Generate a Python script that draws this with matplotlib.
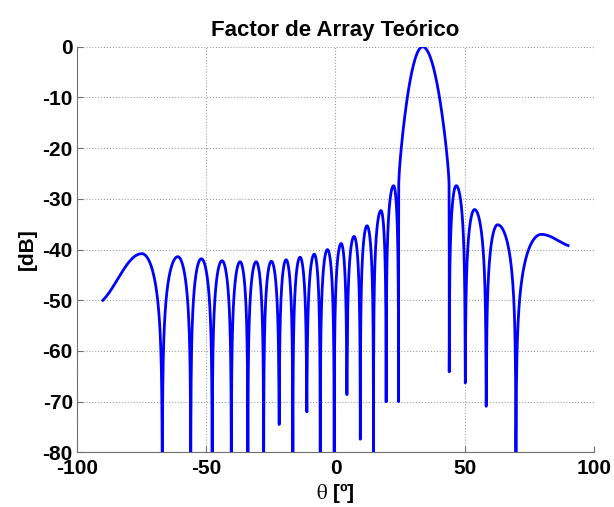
import numpy as np
import matplotlib.pyplot as plt

plt.rcParams['font.family'] = ['Liberation Sans', 'DejaVu Sans']
plt.rcParams['mathtext.fontset'] = 'stix'
plt.rcParams['axes.unicode_minus'] = False

# values
theta_start, db_start = -90.0, -50.0
theta_end, db_end = 90.0, -39.2

null_deg = [-67.0, -56.0, -47.7, -40.3, -33.9, -27.8, -21.8, -16.5, -11.1, -5.9,
            -0.5, 4.4, 9.6, 14.7, 19.6, 24.4, 44.0, 50.2, 58.3, 69.8]
null_db = [-120, -120, -120, -120, -120, -120, -74.5, -120, -72.0, -120,
           -120, -68.6, -77.4, -120, -70.0, -70.0, -64.1, -66.3, -70.9, -120]

peak_deg = [-74.9, -61.0, -51.9, -43.9, -36.9, -30.7, -24.8, -19.1, -13.7, -8.2,
            -3.1, 2.2, 7.2, 12.2, 17.6, 22.5, 33.7, 46.7, 53.8, 62.7, 79.6]
peak_db = [-40.8, -41.4, -41.8, -42.2, -42.4, -42.4, -42.3, -42.0, -41.5, -40.9,
           -40.0, -38.8, -37.4, -35.3, -32.3, -27.4, 0.0, -27.4, -32.1, -35.1, -37.0]


def half_lobe(pk, lv, edge, edge_db, is_null, main, n=150):
    x = np.linspace(pk, edge, n)
    s = (x - pk) / (edge - pk)
    if is_null:
        if main:
            f = np.exp(-2.7 * s ** 2) * np.clip(np.cos(np.pi * s / 2), 1e-9, None) ** 0.1
        else:
            f = np.cos(np.pi * s / 2)
        y = lv + 20 * np.log10(np.clip(f, 1e-9, None))
        y = np.maximum(y, edge_db)
    else:
        k = 0.8 * np.pi
        y = lv + (edge_db - lv) * (1 - np.cos(k * s)) / (1 - np.cos(k))
    return x, y


xs, ys = [], []
edges = [theta_start] + null_deg + [theta_end]
edge_db = [db_start] + null_db + [db_end]
for i, (pk, lv) in enumerate(zip(peak_deg, peak_db)):
    main = lv == max(peak_db)
    xl, yl = half_lobe(pk, lv, edges[i], edge_db[i], i > 0, main)
    xr, yr = half_lobe(pk, lv, edges[i + 1], edge_db[i + 1], i + 1 < len(edges) - 1, main)
    xs.append(xl[::-1]); ys.append(yl[::-1])
    xs.append(xr[1:]); ys.append(yr[1:])
theta = np.concatenate(xs)
af_db = np.concatenate(ys)

fig = plt.figure(figsize=(6.14, 5.07), dpi=100)
ax = fig.add_axes([0.1254, 0.1077, 0.842, 0.800])
ax.plot(theta, af_db, color='#0000ff', linewidth=2)

ax.set_xlim(-100, 100)
ax.set_ylim(-80, 0)
ax.set_xticks([-100, -50, 0, 50, 100])
ax.set_yticks(np.arange(-80, 1, 10))
ax.grid(True, linestyle=':', color='#a0a0a0', linewidth=0.8)
for side in ['top', 'right']:
    ax.spines[side].set_visible(False)
for side in ['left', 'bottom']:
    ax.spines[side].set_color('#707070')
ax.tick_params(direction='in', length=4, color='#707070', labelsize=15, pad=3)
ax.tick_params(axis='x', pad=5)
for lab in ax.get_xticklabels() + ax.get_yticklabels():
    lab.set_fontweight('bold')

ax.set_title('Factor de Array Teórico', fontsize=16, fontweight='bold', pad=8)
ax.set_ylabel('[dB]', fontsize=15, fontweight='bold', labelpad=4)
ax.set_xlabel(r'$\mathrm{\theta}$ [º]', fontsize=15, fontweight='bold', labelpad=2)

fig.savefig('out.png', dpi=100)
